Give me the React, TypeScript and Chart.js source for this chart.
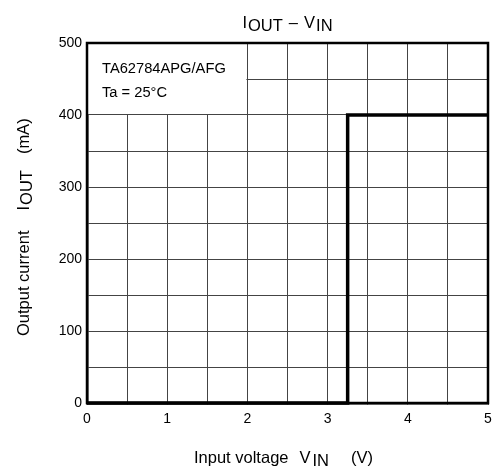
import React, { useEffect, useRef } from "react";
import { Chart, registerables } from "chart.js";

Chart.register(...registerables);

const stepX: number[] = [0, 3.25, 3.25, 5];
const stepY: number[] = [0, 0, 400, 400];
const xTickLabels: string[] = ["0", "1", "2", "3", "4", "5"];
const yTickLabels: string[] = ["0", "100", "200", "300", "400", "500"];
const noteLines: string[] = ["TA62784APG/AFG", "Ta = 25°C"];

type Seg = { t: string; sub?: boolean; gap?: number };
const titleSegs: Seg[] = [
  { t: "I" },
  { t: "OUT", sub: true, gap: 1 },
  { t: "–", gap: 6 },
  { t: "V", gap: 6 },
  { t: "IN", sub: true, gap: 1 },
];
const xTitleSegs: Seg[] = [
  { t: "Input voltage" },
  { t: "V", gap: 11 },
  { t: "IN", sub: true, gap: 2 },
  { t: "(V)", gap: 22 },
];
const yTitleSegs: Seg[] = [
  { t: "Output current" },
  { t: "I", gap: 20 },
  { t: "OUT", sub: true, gap: 1 },
  { t: "(mA)", gap: 16 },
];

const FONT = "'Liberation Sans', Arial, sans-serif";
const TXT = 16.5;

function segsWidth(ctx: CanvasRenderingContext2D, segs: Seg[]) {
  let total = 0;
  ctx.font = `${TXT}px ${FONT}`;
  for (const s of segs) total += (s.gap || 0) + ctx.measureText(s.t).width;
  return total;
}

function drawSegs(ctx: CanvasRenderingContext2D, segs: Seg[], x0: number, y: number, subShift: number) {
  let x = x0;
  ctx.textBaseline = "alphabetic";
  ctx.textAlign = "left";
  ctx.font = `${TXT}px ${FONT}`;
  for (const s of segs) {
    x += s.gap || 0;
    ctx.fillText(s.t, x, y + (s.sub ? subShift : 0));
    x += ctx.measureText(s.t).width;
  }
}

const decorPlugin = {
  id: "decor",
  beforeDatasetsDraw(chart: any) {
    const ctx = chart.ctx as CanvasRenderingContext2D;
    const xs = chart.scales.x;
    const ys = chart.scales.y;
    const l = xs.getPixelForValue(0);
    const r = xs.getPixelForValue(2);
    const t = ys.getPixelForValue(500);
    const b = ys.getPixelForValue(400);
    ctx.save();
    ctx.fillStyle = "#ffffff";
    ctx.fillRect(l + 1, t + 1, r - l - 2, b - t - 2);
    ctx.fillStyle = "#000";
    ctx.font = `14.7px ${FONT}`;
    ctx.textAlign = "left";
    ctx.textBaseline = "alphabetic";
    ctx.fillText(noteLines[0], l + 15, t + 30);
    ctx.fillText(noteLines[1], l + 15, t + 54);
    ctx.restore();
  },
  afterDatasetsDraw(chart: any) {
    const ctx = chart.ctx as CanvasRenderingContext2D;
    const a = chart.chartArea;
    ctx.save();
    ctx.strokeStyle = "#000";
    ctx.lineWidth = 2.5;
    ctx.strokeRect(a.left, a.top, a.right - a.left, a.bottom - a.top);
    ctx.restore();
  },
  afterDraw(chart: any) {
    const ctx = chart.ctx as CanvasRenderingContext2D;
    const a = chart.chartArea;
    ctx.save();
    ctx.fillStyle = "#000";
    const tw = segsWidth(ctx, titleSegs);
    drawSegs(ctx, titleSegs, (a.left + a.right) / 2 - tw / 2, 28, 3);
    drawSegs(ctx, xTitleSegs, 194, 463, 3);
    ctx.translate(29, 336);
    ctx.rotate(-Math.PI / 2);
    drawSegs(ctx, yTitleSegs, 0, 0, 3);
    ctx.restore();
  },
};

export default function App() {
  const ref = useRef<HTMLCanvasElement>(null);
  useEffect(() => {
    const chart = new Chart(ref.current!, {
      type: "scatter",
      data: {
        datasets: [
          {
            data: stepX.map((x, i) => ({ x, y: stepY[i] })),
            showLine: true,
            borderColor: "#000",
            borderWidth: 3.5,
            pointRadius: 0,
            fill: false,
            clip: false as any,
          },
        ],
      },
      options: {
        animation: false,
        responsive: false,
        maintainAspectRatio: false,
        layout: { padding: { left: 0, top: 43, right: 6, bottom: 0 } },
        plugins: { legend: { display: false }, tooltip: { enabled: false }, title: { display: false } },
        scales: {
          x: {
            type: "linear",
            min: 0,
            max: 5,
            afterFit: (s: any) => {
              s.height = 70;
              s.paddingLeft = 0;
              s.paddingRight = 0;
            },
            border: { color: "#000", width: 2.5 },
            grid: { color: "#444", lineWidth: 1, tickLength: 0 },
            ticks: {
              stepSize: 0.5,
              padding: 8,
              color: "#000",
              font: { size: 14, family: FONT },
              maxRotation: 0,
              autoSkip: false,
              callback: (v: any) => (Number.isInteger(v) ? xTickLabels[v] : ""),
            },
          },
          y: {
            type: "linear",
            min: 0,
            max: 500,
            afterFit: (s: any) => {
              s.width = 87;
              s.paddingTop = 0;
              s.paddingBottom = 0;
            },
            border: { color: "#000", width: 2.5 },
            grid: { color: "#444", lineWidth: 1, tickLength: 0 },
            ticks: {
              stepSize: 50,
              padding: 5,
              color: "#000",
              font: { size: 14, family: FONT },
              autoSkip: false,
              callback: (v: any) => (v % 100 === 0 ? yTickLabels[v / 100] : ""),
            },
          },
        },
      },
      plugins: [decorPlugin],
    } as any);
    return () => chart.destroy();
  }, []);
  return (
    <div style={{ position: "fixed", left: 0, top: 0, width: 494, height: 473, background: "#fff" }}>
      <canvas ref={ref} width={494} height={473} style={{ width: 494, height: 473 }} />
    </div>
  );
}
